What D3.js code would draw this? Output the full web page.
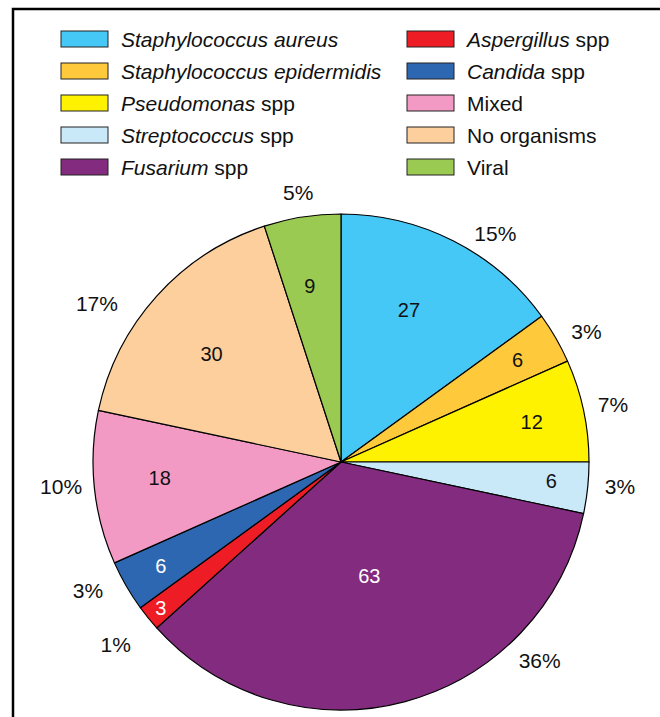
<!DOCTYPE html>
<html>
<head>
<meta charset="utf-8">
<script src="https://cdn.jsdelivr.net/npm/d3@7"></script>
<style>
  body { margin: 0; background: #fff; }
  svg text { font-family: "Liberation Sans", Arial, Helvetica, sans-serif; }
</style>
</head>
<body>
<div id="chart"></div>
<script>
// organisms, in drawing order (clockwise from 12 o'clock)
var names = ["Staphylococcus aureus", "Staphylococcus epidermidis", "Pseudomonas spp",
  "Streptococcus spp", "Fusarium spp", "Aspergillus spp", "Candida spp",
  "Mixed", "No organisms", "Viral"];
// italic part of each legend label
var italicPart = ["Staphylococcus aureus", "Staphylococcus epidermidis", "Pseudomonas",
  "Streptococcus", "Fusarium", "Aspergillus", "Candida", "", "", ""];
var counts = [27, 6, 12, 6, 63, 3, 6, 18, 30, 9];
var percents = ["15%", "3%", "7%", "3%", "36%", "1%", "3%", "10%", "17%", "5%"];
var colors = ["#45c8f5", "#fec93b", "#fff200", "#c9e9f8", "#822b7f",
  "#ee1c25", "#2e67b1", "#f29ac4", "#fdcf9d", "#9bca52"];
var countColor = ["#111", "#111", "#111", "#111", "#fff", "#fff", "#fff", "#111", "#111", "#111"];

// label placement tweaks (layout, not data)
var innerR = [167, 204, 195, 211, 117, 232, 208, 182, 169, 179];
var innerShift = [-3, 0, 0, -1, 1, 0, 0, 1, -2, -1];    // degrees
var outerShift = [7, 2, 0, -1, -30, 0, 3, 1, -9, 0];    // degrees
var outerR = [276, 278, 278, 280, 281, 290, 284, 281, 291, 273];

var width = 660, height = 717;
var cx = 341, cy = 462, radius = 248;
var deg = Math.PI / 180;

var svg = d3.select("#chart").append("svg")
    .attr("width", width)
    .attr("height", height);

// frame, runs off the right and bottom edge
svg.append("rect")
    .attr("x", 13).attr("y", 9)
    .attr("width", 700).attr("height", 800)
    .attr("fill", "none")
    .attr("stroke", "#000")
    .attr("stroke-width", 2.5);

// legend
var legend = svg.append("g");
var rows = legend.selectAll("g").data(names)
  .enter().append("g")
    .attr("transform", function(d, i) {
      var col = Math.floor(i / 5), row = i % 5;
      return "translate(" + (61 + col * 346) + "," + (31 + row * 32) + ")";
    });

rows.append("rect")
    .attr("width", 47).attr("height", 16)
    .attr("fill", function(d, i) { return colors[i]; })
    .attr("stroke", "#222")
    .attr("stroke-width", 1);

rows.append("text")
    .attr("x", 60).attr("y", 16)
    .attr("font-size", 21)
    .attr("fill", "#111")
    .each(function(d, i) {
      var t = d3.select(this);
      var it = italicPart[i];
      if (it) t.append("tspan").attr("font-style", "italic").text(it);
      var rest = d.slice(it.length);
      if (rest) t.append("tspan").text(rest);
    });

// pie
var pie = d3.pie().sort(null).value(function(d) { return d; });
var arc = d3.arc().innerRadius(0).outerRadius(radius);
var arcs = pie(counts);

var g = svg.append("g").attr("transform", "translate(" + cx + "," + cy + ")");

g.selectAll("path").data(arcs)
  .enter().append("path")
    .attr("d", arc)
    .attr("fill", function(d, i) { return colors[i]; })
    .attr("stroke", "#000")
    .attr("stroke-width", 1.2)
    .attr("stroke-linejoin", "round");

function polar(a, r) { return [Math.sin(a) * r, -Math.cos(a) * r]; }
function mid(d) { return (d.startAngle + d.endAngle) / 2; }

g.selectAll("text.count").data(arcs)
  .enter().append("text")
    .attr("class", "count")
    .attr("transform", function(d, i) {
      return "translate(" + polar(mid(d) + innerShift[i] * deg, innerR[i]) + ")";
    })
    .attr("text-anchor", "middle")
    .attr("dy", "0.36em")
    .attr("font-size", 20)
    .attr("fill", function(d, i) { return countColor[i]; })
    .text(function(d) { return d.data; });

g.selectAll("text.pct").data(arcs)
  .enter().append("text")
    .attr("class", "pct")
    .attr("transform", function(d, i) {
      return "translate(" + polar(mid(d) + outerShift[i] * deg, outerR[i]) + ")";
    })
    .attr("text-anchor", "middle")
    .attr("dy", "0.36em")
    .attr("font-size", 21)
    .attr("fill", "#111")
    .text(function(d, i) { return percents[i]; });
</script>
</body>
</html>
